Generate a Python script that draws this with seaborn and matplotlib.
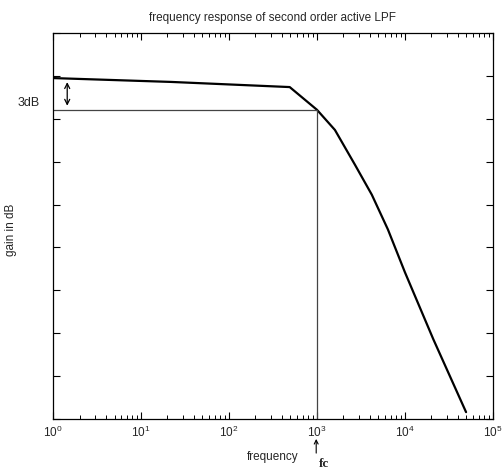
import numpy as np
import pandas as pd
import seaborn as sns
import matplotlib
matplotlib.use("Agg")
import matplotlib.pyplot as plt

# values
freq = [1, 22, 490, 1000, 1600, 2700, 4200, 6400, 10000, 21000, 49500]
gain = [-0.5, -1.4, -2.6, -7.9, -12.6, -20.7, -27.7, -35.8, -45.8, -61.4, -78.4]
cutoff_freq = 1000
cutoff_gain = -7.9
passband_gain = -0.5
arrow_freq = 1.45
xticks = [1, 10, 100, 1000, 10000, 100000]
yticks = list(range(-80, 11, 10))

sns.set_style("white")
plt.rcParams['font.family'] = ['Liberation Sans', 'DejaVu Sans']
plt.rcParams['xtick.direction'] = 'in'
plt.rcParams['ytick.direction'] = 'in'

fig = plt.figure(figsize=(5.03, 4.72), dpi=100)
ax = fig.add_axes([0.1054, 0.1123, 0.8746, 0.8177])

df = pd.DataFrame({'frequency': freq, 'gain': gain})
sns.lineplot(data=df, x='frequency', y='gain', color='black', linewidth=1.6, ax=ax)
ax.set_xscale('log')
ax.set_xlim(1, 1e5)
ax.set_ylim(-80, 10)
ax.set_xticks(xticks)
ax.set_yticks(yticks)
ax.set_yticklabels([])

# 3dB guide lines
ax.plot([1, cutoff_freq], [cutoff_gain, cutoff_gain], color='#444444', linewidth=0.9)
ax.plot([cutoff_freq, cutoff_freq], [cutoff_gain, -80], color='#444444', linewidth=0.9)
ax.annotate('', xy=(arrow_freq, cutoff_gain + 0.3), xytext=(arrow_freq, passband_gain - 0.3),
            arrowprops=dict(arrowstyle='<->', color='black', lw=0.9, mutation_scale=9))
ax.text(-0.03, cutoff_gain + 1.5, '3dB', transform=ax.get_yaxis_transform(),
        ha='right', va='center', fontsize=9)

for s in ax.spines.values():
    s.set_color('black')
    s.set_linewidth(0.9)
ax.tick_params(which='both', top=True, right=True, bottom=True, left=True, color='black')
ax.tick_params(which='major', length=5, width=0.8, labelsize=8.5, pad=4)
ax.tick_params(which='minor', length=3, width=0.7)

ax.set_title('frequency response of second order active LPF', fontsize=8.5, pad=9)
ax.set_xlabel('frequency', fontsize=8.5, labelpad=8)
ax.set_ylabel('gain in dB', fontsize=8.5)
ax.yaxis.set_label_coords(-0.082, 0.49)

# fc marker below the axis
ax.annotate('', xy=(cutoff_freq * 0.98, -84.0), xytext=(cutoff_freq * 0.98, -88.6),
            annotation_clip=False,
            arrowprops=dict(arrowstyle='->', color='black', lw=0.8, mutation_scale=7))
ax.text(cutoff_freq * 1.05, -90.4, 'fc', fontsize=9.5, fontweight='bold',
        family='Liberation Serif', ha='left', va='center', clip_on=False)

fig.savefig('out.png', dpi=100)
